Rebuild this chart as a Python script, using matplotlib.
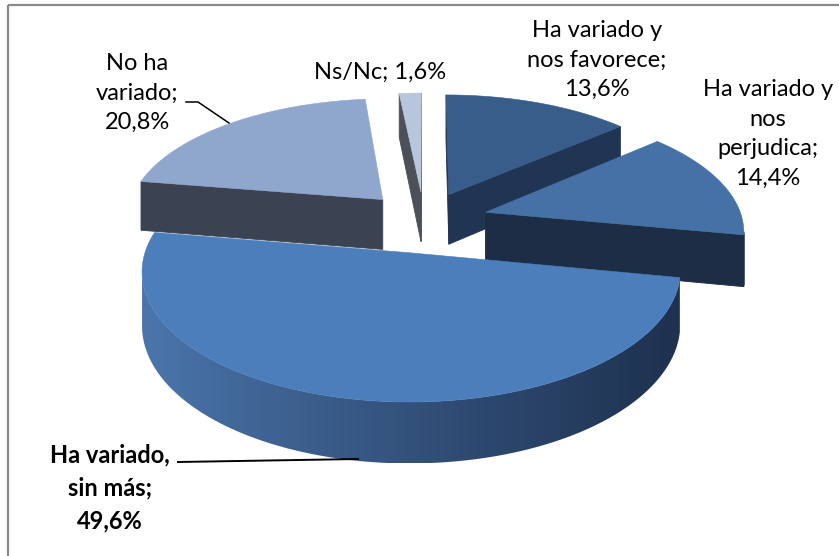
import matplotlib
matplotlib.use("Agg")
import matplotlib.pyplot as plt
import numpy as np
from matplotlib.patches import Polygon, Rectangle

# ---------------- data ----------------
categories = ["Ha variado y nos favorece", "Ha variado y nos perjudica",
              "Ha variado, sin más", "No ha variado", "Ns/Nc"]
values = [13.6, 14.4, 49.6, 20.8, 1.6]
value_labels = ["13,6%", "14,4%", "49,6%", "20,8%", "1,6%"]
label_texts = ["Ha variado y\nnos favorece;", "Ha variado y\nnos\nperjudica;",
               "Ha variado,\nsin más;", "No ha\nvariado;", "Ns/Nc;"]

# ---------------- style / layout ----------------
W, H = 839, 556
CX, CY = 424.0, 220.0
RX, RY = 257.0, 119.4
K = 0.134
DEPTH = 51.0
explode = [0.24, 0.25, 0.27, 0.24, 0.24]
top_colors = ["#385d8a", "#4571a6", "#4c7ebb", "#8fa6cd", "#b7c5dd"]
wall_colors = ["#1f3553", "#1c2d45", None, "#3b4252", "#4b5059"]
grad_light = np.array([0x4b, 0x76, 0xad]) / 255.0
grad_dark = np.array([0x1e, 0x31, 0x4f]) / 255.0
label_pos = [(597, 60), (768, 134), (110, 488), (137, 93), (380, 72)]
label_bold = [False, False, True, False, False]
FONT = "Lato"
FSIZE = 17.0
LSPACE = 1.52


def proj(u, v, z=0.0):
    u = np.asarray(u, dtype=float)
    v = np.asarray(v, dtype=float)
    s = 1.0 / (1.0 - K * v)
    return CX + RX * u * s, CY + (RY * v + z) * s


def shoelace(xs, ys):
    return np.sum(xs * np.roll(ys, -1) - np.roll(xs, -1) * ys)


fig = plt.figure(figsize=(W / 100, H / 100), dpi=100)
ax = fig.add_axes([0, 0, 1, 1])
ax.axis("off")

total = float(sum(values))
bounds = np.concatenate([[0], np.cumsum(values)]) / total * 360.0

slices = []
for i, val in enumerate(values):
    a0, a1 = bounds[i], bounds[i + 1]
    m = np.radians((a0 + a1) / 2)
    ou, ov = explode[i] * np.sin(m), -explode[i] * np.cos(m)
    n = max(3, int((a1 - a0) * 2))
    t = np.radians(np.linspace(a0, a1, n))
    au, av = ou + np.sin(t), ov - np.cos(t)
    depth_key = ov + np.mean(-np.cos(t)) * 0.6
    slices.append((depth_key, i, ou, ov, au, av))

slices.sort(key=lambda s: s[0])

z = 1.0
for _, i, ou, ov, au, av in slices:
    bu = np.concatenate([[ou], au])
    bv = np.concatenate([[ov], av])
    tx, ty = proj(bu, bv, 0)
    bx, by = proj(bu, bv, DEPTH)
    nb = len(bu)
    if wall_colors[i] is None:
        # outer wall with horizontal shading, drawn as one clipped gradient
        vis = []
        for k in range(1, nb - 1):
            qx = np.array([tx[k], tx[k + 1], bx[k + 1], bx[k]])
            qy = np.array([ty[k], ty[k + 1], by[k + 1], by[k]])
            if shoelace(qx, qy) < 0:
                vis.extend([k, k + 1])
        if vis:
            idx = np.arange(min(vis), max(vis) + 1)
            px = np.concatenate([tx[idx], bx[idx][::-1]])
            py = np.concatenate([ty[idx], by[idx][::-1]])
            clip = Polygon(np.column_stack([px, py]), closed=True,
                           facecolor="none", edgecolor="none", zorder=z)
            ax.add_patch(clip)
            x0, x1 = px.min(), px.max()
            y0, y1 = py.min(), py.max()
            f = np.linspace(0, 1, 256) ** 0.9
            grad = grad_light[None, :] * (1 - f[:, None]) + grad_dark[None, :] * f[:, None]
            im = ax.imshow(grad[None, :, :], extent=(x0, x1, y1, y0),
                           aspect="auto", interpolation="bilinear", zorder=z)
            im.set_clip_path(clip)
            z += 1
    else:
        col = wall_colors[i]
        for k in range(nb):
            k2 = (k + 1) % nb
            qx = np.array([tx[k], tx[k2], bx[k2], bx[k]])
            qy = np.array([ty[k], ty[k2], by[k2], by[k]])
            if shoelace(qx, qy) >= 0:
                continue
            ax.add_patch(Polygon(np.column_stack([qx, qy]), closed=True,
                                 facecolor=col, edgecolor=col, lw=0.6, zorder=z))
        z += 1
    ax.add_patch(Polygon(np.column_stack([tx, ty]), closed=True,
                         facecolor=top_colors[i], edgecolor=top_colors[i],
                         lw=0.4, zorder=z))
    z += 1

# labels
for i in range(len(values)):
    x, y = label_pos[i]
    if categories[i] == "Ns/Nc":
        txt = label_texts[i] + " " + value_labels[i]
    else:
        txt = label_texts[i] + "\n" + value_labels[i]
    ax.text(x, y, txt, ha="center", va="center", fontsize=FSIZE, family=FONT,
            fontweight="bold" if label_bold[i] else "normal",
            color="black", linespacing=LSPACE, multialignment="center",
            zorder=50)

# leader lines
ax.plot([186, 198, 229], [102, 102, 123], color="black", lw=1.1, zorder=49)
ax.plot([178, 358], [462, 459], color="black", lw=1.4, zorder=49)

# frame
ax.add_patch(Rectangle((7.5, 5), 900, 700, facecolor="none",
                       edgecolor="#8a8a8a", lw=1.6, zorder=60))

ax.set_xlim(0, W)
ax.set_ylim(H, 0)
fig.savefig("out.png", dpi=100)
